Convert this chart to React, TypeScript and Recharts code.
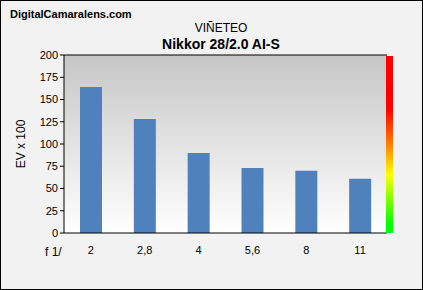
import React from 'react';
import { Bar, BarChart, CartesianGrid, ReferenceLine, XAxis, YAxis } from 'recharts';

const apertures = ['2', '2,8', '4', '5,6', '8', '11'];
const vignetting = [164, 128, 90, 73, 70, 61];
const yTicks = [0, 25, 50, 75, 100, 125, 150, 175, 200];
const boundaryTicks = [0, 1, 2, 3, 4, 5, 6];

const data = apertures.map((f, i) => ({ f, ev: vignetting[i], pos: i + 0.5 }));

const font = '"Liberation Sans", Arial, sans-serif';
const tickStyle = { fill: '#000', fontSize: 11, fontFamily: font };

export default function App() {
  return (
    <div
      style={{
        position: 'absolute',
        left: 0,
        top: 0,
        width: 423,
        height: 290,
        boxSizing: 'border-box',
        border: '1px solid #000',
        background: '#f2f2f2',
        fontFamily: font,
      }}
    >
      <div style={{ position: 'absolute', left: 9, top: 7, fontSize: 11, fontWeight: 'bold' }}>
        DigitalCamaralens.com
      </div>
      <div style={{ position: 'absolute', left: 0, width: 440, top: 20, textAlign: 'center', fontSize: 12 }}>VIÑETEO</div>
      <div style={{ position: 'absolute', left: 0, width: 440, top: 35, textAlign: 'center', fontSize: 14, fontWeight: 'bold' }}>
        Nikkor 28/2.0 AI-S
      </div>
      <div style={{ position: 'absolute', left: 44, top: 244, fontSize: 12 }}>f 1/</div>
      <BarChart
        width={421}
        height={288}
        data={data}
        margin={{ top: 54, right: 35, left: 0, bottom: 0 }}
        barCategoryGap={0}
      >
        <defs>
          <linearGradient id="plotBg" x1="0" y1="0" x2="0" y2="1">
            <stop offset="0%" stopColor="#c6c6c6" />
            <stop offset="100%" stopColor="#ffffff" />
          </linearGradient>
        </defs>
        <CartesianGrid horizontal={false} vertical={false} fill="url(#plotBg)" xAxisId="b" />
        <XAxis
          xAxisId="a"
          type="number"
          dataKey="pos"
          domain={[0, 6]}
          ticks={boundaryTicks}
          tick={false}
          tickSize={5}
          height={5}
          stroke="#000"
          allowDataOverflow
        />
        <XAxis
          xAxisId="b"
          dataKey="f"
          axisLine={false}
          tickLine={false}
          tick={tickStyle}
          height={51}
          tickMargin={2}
          interval={0}
        />
        <YAxis
          domain={[0, 200]}
          ticks={yTicks}
          tick={tickStyle}
          tickSize={4}
          tickMargin={2}
          width={63}
          stroke="#000"
          interval={0}
          label={{
            value: 'EV x 100',
            angle: -90,
            position: 'insideLeft',
            offset: 20,
            style: { fill: '#000', fontSize: 12, fontFamily: font, textAnchor: 'middle' },
          }}
        />
        <ReferenceLine y={200} stroke="#000" xAxisId="b" />
        <Bar dataKey="ev" xAxisId="b" fill="#4f81bd" barSize={22} isAnimationActive={false} />
      </BarChart>
      <div
        style={{
          position: 'absolute',
          left: 385,
          top: 55,
          width: 7,
          height: 177,
          zIndex: 2,
          background: 'linear-gradient(to bottom, #ff0000 0%, #ff0000 30%, #ff8000 50%, #ffff00 67%, #00ff00 95%, #00ff00 100%)',
        }}
      />
    </div>
  );
}
